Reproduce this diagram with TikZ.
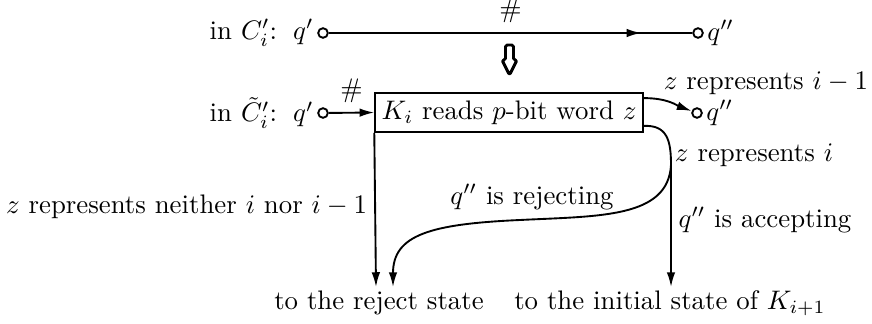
\documentclass[tikz,border=0pt]{standalone}
\usetikzlibrary{arrows.meta,decorations.markings,calc}
\begin{document}
\begin{tikzpicture}[x=0.373pt,y=-0.373pt, line width=0.7pt,
  state/.style={circle,draw,inner sep=0pt,minimum size=3.6pt,line width=0.7pt},
  tip/.style={-{Latex[length=5.5pt,width=3.2pt]}},
  lbl/.style={inner sep=1pt}]
\useasboundingbox (0,0) rectangle (872,324);
% top row
\node[state] (a1) at (323,33) {};
\node[state, label={[lbl]right:$q''$}] (b1) at (698,33) {};
\node[anchor=east, inner sep=1pt] (t1) at (a1.west) {in $C'_i$:\hspace{6pt}$q'$};
\draw[postaction=decorate, decoration={markings, mark=at position 0.86 with {\arrow{Latex[length=5.5pt,width=3.2pt]}}}]
  (a1) -- node[above] (h1) {\#} (b1);
% outline arrow
\draw[line width=1.1pt, line join=round, rounded corners=0.6pt, fill=white]
  (505.5,45) -- (513.5,45) -- (513.5,60) -- (517,60) -- (509.5,75) -- (502,60) -- (505.5,60) -- cycle;
% second row
\node[draw, minimum width=99.8pt, minimum height=14.5pt, inner sep=2pt] (box) at (509,112.5) {$K_i$ reads $p$-bit word $z$};
\node[state] (a2) at (323,113) {};
\node[anchor=east, inner sep=1pt] (t2) at (a2.west) {in $\tilde C'_i$:\hspace{6pt}$q'$};
\draw[tip] (a2) -- node[above] (h2) {\#} (box.west);
\node[state, label={[lbl]right:$q''$}] (b2) at (697,113) {};
\draw[tip] ($(box.north east)+(0,6)$) .. controls (668,98) and (678,106) .. (b2);
% branches
\coordinate (sp) at (671,165);
\coordinate (e1) at (376,287);
\coordinate (e2) at (393,287);
\coordinate (e3) at (671,287);
\draw ($(box.south east)+(0,-7)$) .. controls (667,125) and (671,140) .. (sp);
\draw[tip] (sp) -- (e3);
\draw[tip] (sp) .. controls (668,218) and (600,216) .. (520,220) .. controls (430,224) and (393,235) .. (e2);
\draw[tip] (box.south west) -- (e1);
% labels
\node (l1) at (766,83) {$z$ represents $i-1$};
\node (l2) at (754,155) {$z$ represents $i$};
\node[anchor=east] (l3) at (377,207) {$z$ represents neither $i$ nor $i-1$};
\node (l4) at (532,197) {$q''$ is rejecting};
\node (l5) at (765,220) {$q''$ is accepting};
\node (r1) at (379,303) {to the reject state};
\node (r2) at (670,303) {to the initial state of $K_{i+1}$};
\end{tikzpicture}
\end{document}
